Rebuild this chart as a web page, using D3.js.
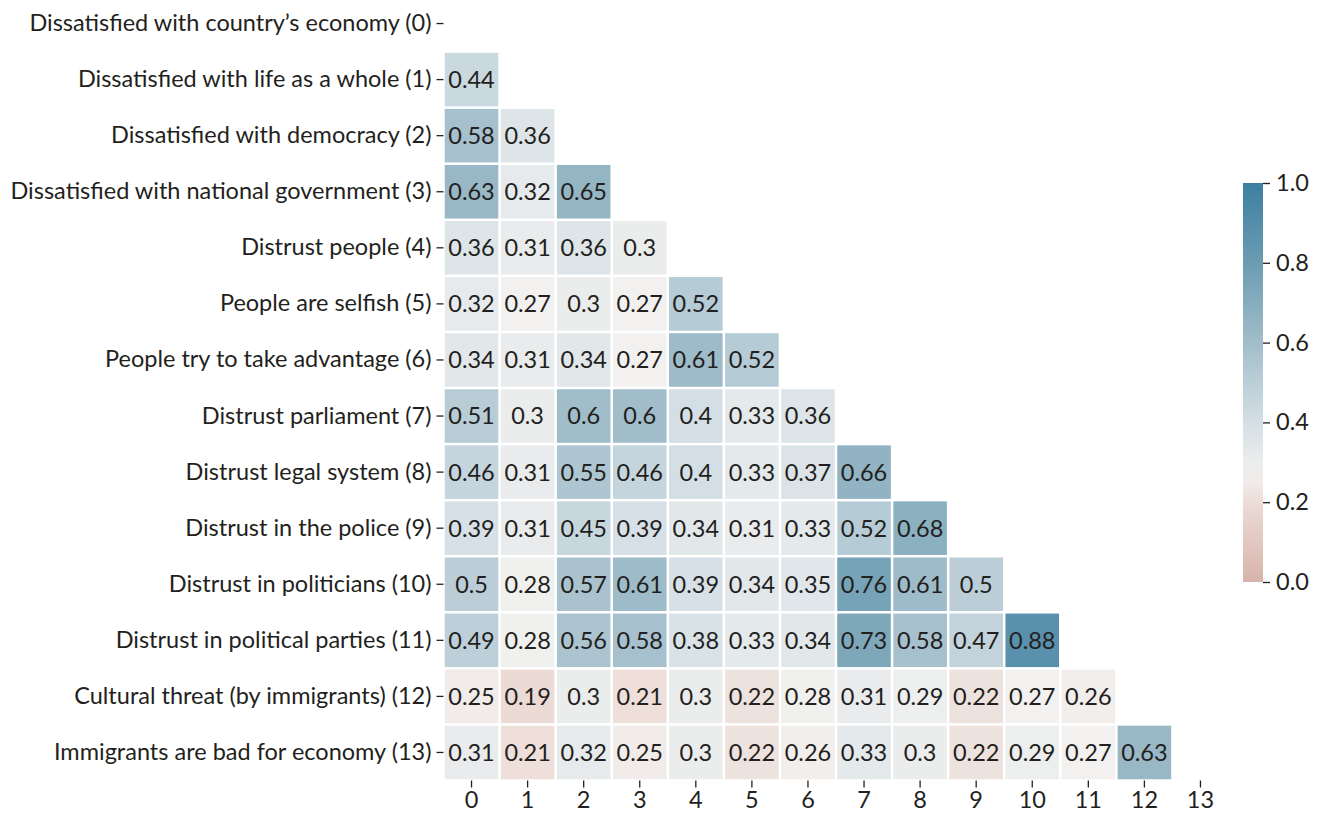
<!DOCTYPE html>
<meta charset="utf-8">
<style>
body { margin: 0; background: #fff; }
text { font-family: Lato, "Noto Sans", sans-serif; fill: #231f20; }
.tick line { stroke: #231f20; }
</style>
<body>
<script src="https://cdn.jsdelivr.net/npm/d3@7"></script>
<script>
const width = 1320;
const height = 814;

const labels = [
    "Dissatisfied with country’s economy (0)",
    "Dissatisfied with life as a whole (1)",
    "Dissatisfied with democracy (2)",
    "Dissatisfied with national government (3)",
    "Distrust people (4)",
    "People are selfish (5)",
    "People try to take advantage (6)",
    "Distrust parliament (7)",
    "Distrust legal system (8)",
    "Distrust in the police (9)",
    "Distrust in politicians (10)",
    "Distrust in political parties (11)",
    "Cultural threat (by immigrants) (12)",
    "Immigrants are bad for economy (13)"
];

// lower triangle, row i has values for columns 0..i-1
const lowerRows = [
    [],
    [0.44],
    [0.58, 0.36],
    [0.63, 0.32, 0.65],
    [0.36, 0.31, 0.36, 0.3],
    [0.32, 0.27, 0.3, 0.27, 0.52],
    [0.34, 0.31, 0.34, 0.27, 0.61, 0.52],
    [0.51, 0.3, 0.6, 0.6, 0.4, 0.33, 0.36],
    [0.46, 0.31, 0.55, 0.46, 0.4, 0.33, 0.37, 0.66],
    [0.39, 0.31, 0.45, 0.39, 0.34, 0.31, 0.33, 0.52, 0.68],
    [0.5, 0.28, 0.57, 0.61, 0.39, 0.34, 0.35, 0.76, 0.61, 0.5],
    [0.49, 0.28, 0.56, 0.58, 0.38, 0.33, 0.34, 0.73, 0.58, 0.47, 0.88],
    [0.25, 0.19, 0.3, 0.21, 0.3, 0.22, 0.28, 0.31, 0.29, 0.22, 0.27, 0.26],
    [0.31, 0.21, 0.32, 0.25, 0.3, 0.22, 0.26, 0.33, 0.3, 0.22, 0.29, 0.27, 0.63]
];

const colorbarTicks = [0, 0.2, 0.4, 0.6, 0.8, 1.0];

const cells = [];
lowerRows.forEach(function(row, i) {
    row.forEach(function(v, j) {
        cells.push({ row: i, col: j, value: v });
    });
});

const idx = d3.range(labels.length);
const fontSize = "23.5px";

// heatmap area
const gridLeft = 443.5, gridTop = -4.5, gridSize = 785;

const x = d3.scaleBand().domain(idx).range([gridLeft, gridLeft + gridSize]);
const y = d3.scaleBand().domain(idx).range([gridTop, gridTop + gridSize]);

const color = d3.scaleLinear()
    .domain([0, 0.2, 0.27, 0.4, 0.6, 0.8, 1.0])
    .range(["#d6b4ab", "#eddcd7", "#f2f1f0", "#d4dfe5", "#a1bdca", "#6b9cb2", "#3d7fa1"])
    .clamp(true);

const svg = d3.select("body").append("svg")
    .attr("width", width)
    .attr("height", height);

const gap = 2.5;

svg.append("g").selectAll("rect")
    .data(cells)
    .enter().append("rect")
    .attr("x", function(d) { return x(d.col) + gap / 2; })
    .attr("y", function(d) { return y(d.row) + gap / 2; })
    .attr("width", x.bandwidth() - gap)
    .attr("height", y.bandwidth() - gap)
    .attr("fill", function(d) { return color(d.value); });

svg.append("g").selectAll("text")
    .data(cells)
    .enter().append("text")
    .attr("x", function(d) { return x(d.col) + x.bandwidth() / 2; })
    .attr("y", function(d) { return y(d.row) + y.bandwidth() / 2; })
    .attr("dy", "0.36em")
    .attr("text-anchor", "middle")
    .style("font-size", fontSize)
    .text(function(d) { return String(d.value); });

// axes
const xAxis = svg.append("g")
    .attr("transform", "translate(0," + (gridTop + gridSize) + ")")
    .call(d3.axisBottom(x).tickSize(7).tickPadding(4))
    .call(function(g) { g.select(".domain").remove(); });
xAxis.selectAll("text").style("font-size", fontSize).attr("dy", "0.71em");
xAxis.selectAll("line").attr("stroke-width", 1.3);

const yAxis = svg.append("g")
    .attr("transform", "translate(" + gridLeft + ",0)")
    .call(d3.axisLeft(y).tickSize(7).tickPadding(5).tickFormat(function(i) { return labels[i]; }))
    .call(function(g) { g.select(".domain").remove(); });
yAxis.selectAll("text").style("font-size", fontSize);
yAxis.selectAll("line").attr("stroke-width", 1.3);

// colorbar
const cbX = 1243, cbW = 20, cbTop = 183, cbBottom = 582;
const cbScale = d3.scaleLinear().domain([0, 1]).range([cbBottom, cbTop]);

const defs = svg.append("defs");
const grad = defs.append("linearGradient")
    .attr("id", "cbgrad")
    .attr("x1", 0).attr("y1", 1).attr("x2", 0).attr("y2", 0);
d3.range(0, 1.0001, 0.05).forEach(function(t) {
    grad.append("stop")
        .attr("offset", t)
        .attr("stop-color", color(t));
});

svg.append("rect")
    .attr("x", cbX)
    .attr("y", cbTop)
    .attr("width", cbW)
    .attr("height", cbBottom - cbTop)
    .attr("fill", "url(#cbgrad)");

const cbAxis = svg.append("g")
    .attr("transform", "translate(" + (cbX + cbW) + ",0)")
    .call(d3.axisRight(cbScale).tickValues(colorbarTicks).tickFormat(d3.format(".1f")).tickSize(7).tickPadding(6))
    .call(function(g) { g.select(".domain").remove(); });
cbAxis.selectAll("text").style("font-size", fontSize);
cbAxis.selectAll("line").attr("stroke-width", 1.3);
</script>
</body>
